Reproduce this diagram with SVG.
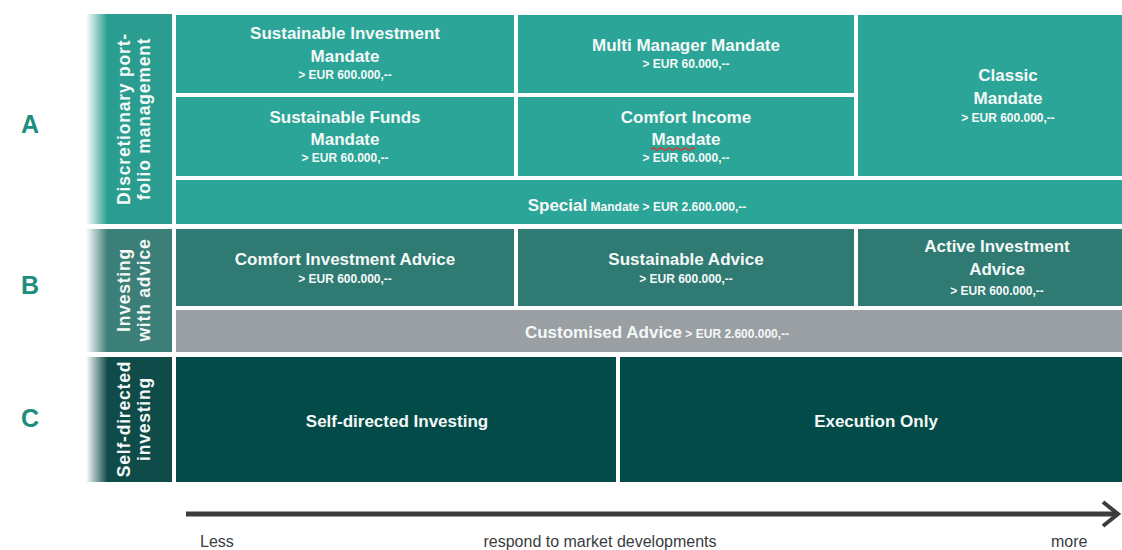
<svg xmlns="http://www.w3.org/2000/svg" width="1122" height="550" viewBox="0 0 1122 550">
<defs>
<style>
.t{font-family:"Liberation Sans",Arial,sans-serif;font-weight:bold;fill:#f4f8f7;text-anchor:middle}
.h{font-size:17px}
.s{font-size:12px}
.side{font-family:"Liberation Sans",Arial,sans-serif;font-weight:bold;fill:#f4f8f7;font-size:17.5px;letter-spacing:0.8px;text-anchor:middle}
.let{font-family:"Liberation Sans",Arial,sans-serif;font-weight:bold;fill:#1d8e7e;font-size:25px;text-anchor:middle}
.ax{font-family:"Liberation Sans",Arial,sans-serif;fill:#3a3c3e;font-size:16px}
.a{fill:#2ba597}.b{fill:#2f7b73}.g{fill:#9a9fa4}.c{fill:#034b49}
</style>
<linearGradient id="gA" x1="0" y1="0" x2="1" y2="0"><stop offset="0" stop-color="#ffffff"/><stop offset="0.25" stop-color="#2a9d90"/><stop offset="1" stop-color="#2a9d90"/></linearGradient>
<linearGradient id="gB" x1="0" y1="0" x2="1" y2="0"><stop offset="0" stop-color="#ffffff"/><stop offset="0.25" stop-color="#3c7f78"/><stop offset="1" stop-color="#3c7f78"/></linearGradient>
<linearGradient id="gC" x1="0" y1="0" x2="1" y2="0"><stop offset="0" stop-color="#ffffff"/><stop offset="0.25" stop-color="#0f4b48"/><stop offset="1" stop-color="#0f4b48"/></linearGradient>
</defs>
<rect width="1122" height="550" fill="#ffffff"/>

<g id="labelA"><text class="let" x="30" y="133">A</text></g>
<g id="labelB"><text class="let" x="30" y="294">B</text></g>
<g id="labelC"><text class="let" x="30" y="427">C</text></g>

<g id="sideA"><rect x="86" y="14" width="86" height="210" fill="url(#gA)"/>
<text class="side" transform="translate(131,119) rotate(-90)"><tspan x="0" y="-1">Discretionary port-</tspan><tspan x="0" y="19">folio management</tspan></text></g>
<g id="sideB"><rect x="86" y="229" width="86" height="123" fill="url(#gB)"/>
<text class="side" transform="translate(131,290) rotate(-90)"><tspan x="0" y="-1">Investing</tspan><tspan x="0" y="19">with advice</tspan></text></g>
<g id="sideC"><rect x="86" y="357" width="86" height="125" fill="url(#gC)"/>
<text class="side" transform="translate(131,419) rotate(-90)"><tspan x="0" y="-1">Self-directed</tspan><tspan x="0" y="19">investing</tspan></text></g>

<g id="sustainableInvestment"><rect class="a" x="176" y="15" width="338" height="78"/>
<text class="t"><tspan class="h" x="345" y="39">Sustainable Investment</tspan><tspan class="h" x="345" y="62">Mandate</tspan><tspan class="s" x="345" y="79">&gt; EUR 600.000,--</tspan></text></g>
<g id="multiManager"><rect class="a" x="518" y="15" width="336" height="78"/>
<text class="t"><tspan class="h" x="686" y="51">Multi Manager Mandate</tspan><tspan class="s" x="686" y="68">&gt; EUR 60.000,--</tspan></text></g>
<g id="classic"><rect class="a" x="858" y="15" width="264" height="161"/>
<text class="t"><tspan class="h" x="1008" y="81">Classic</tspan><tspan class="h" x="1008" y="104">Mandate</tspan><tspan class="s" x="1008" y="122">&gt; EUR 600.000,--</tspan></text></g>
<g id="sustainableFunds"><rect class="a" x="176" y="97" width="338" height="79"/>
<text class="t"><tspan class="h" x="345" y="123">Sustainable Funds</tspan><tspan class="h" x="345" y="145">Mandate</tspan><tspan class="s" x="345" y="162">&gt; EUR 60.000,--</tspan></text></g>
<g id="comfortIncome"><rect class="a" x="518" y="97" width="336" height="79"/>
<text class="t"><tspan class="h" x="686" y="123">Comfort Income</tspan><tspan class="h" x="686" y="145">Mandate</tspan><tspan class="s" x="686" y="162">&gt; EUR 60.000,--</tspan></text>
<path d="M651 149 q2 -2 4 0 t4 0 t4 0 t4 0 t4 0 t4 0 t4 0 t4 0 t4 0 t4 0 t4 0" fill="none" stroke="#d9383a" stroke-width="1.2"/></g>
<g id="special"><rect class="a" x="176" y="180" width="946" height="44"/>
<text class="t" x="637" y="211"><tspan class="h">Special</tspan><tspan class="s"> Mandate &gt; EUR 2.600.000,--</tspan></text></g>

<g id="comfortAdvice"><rect class="b" x="176" y="229" width="338" height="77"/>
<text class="t"><tspan class="h" x="345" y="265">Comfort Investment Advice</tspan><tspan class="s" x="345" y="283">&gt; EUR 600.000,--</tspan></text></g>
<g id="sustainableAdvice"><rect class="b" x="518" y="229" width="336" height="77"/>
<text class="t"><tspan class="h" x="686" y="265">Sustainable Advice</tspan><tspan class="s" x="686" y="283">&gt; EUR 600.000,--</tspan></text></g>
<g id="activeAdvice"><rect class="b" x="858" y="229" width="264" height="77"/>
<text class="t"><tspan class="h" x="997" y="252">Active Investment</tspan><tspan class="h" x="997" y="275">Advice</tspan><tspan class="s" x="997" y="295">&gt; EUR 600.000,--</tspan></text></g>
<g id="customised"><rect class="g" x="176" y="310" width="946" height="42"/>
<text class="t" x="657" y="338"><tspan class="h">Customised Advice</tspan><tspan class="s"> &gt; EUR 2.600.000,--</tspan></text></g>

<g id="selfDirected"><rect class="c" x="176" y="357" width="440" height="125"/>
<text class="t h" x="397" y="427">Self-directed Investing</text></g>
<g id="executionOnly"><rect class="c" x="620" y="357" width="502" height="125"/>
<text class="t h" x="876" y="427">Execution Only</text></g>

<g id="connectors">
<line x1="186" y1="514" x2="1116" y2="514" stroke="#3a3c3e" stroke-width="5"/>
<polyline points="1103,502 1118,514 1103,526" fill="none" stroke="#3a3c3e" stroke-width="4"/>
</g>
<g id="axisLabels">
<text class="ax" x="200" y="547">Less</text>
<text class="ax" x="600" y="547" text-anchor="middle">respond to market developments</text>
<text class="ax" x="1051" y="547">more</text>
</g>
</svg>
